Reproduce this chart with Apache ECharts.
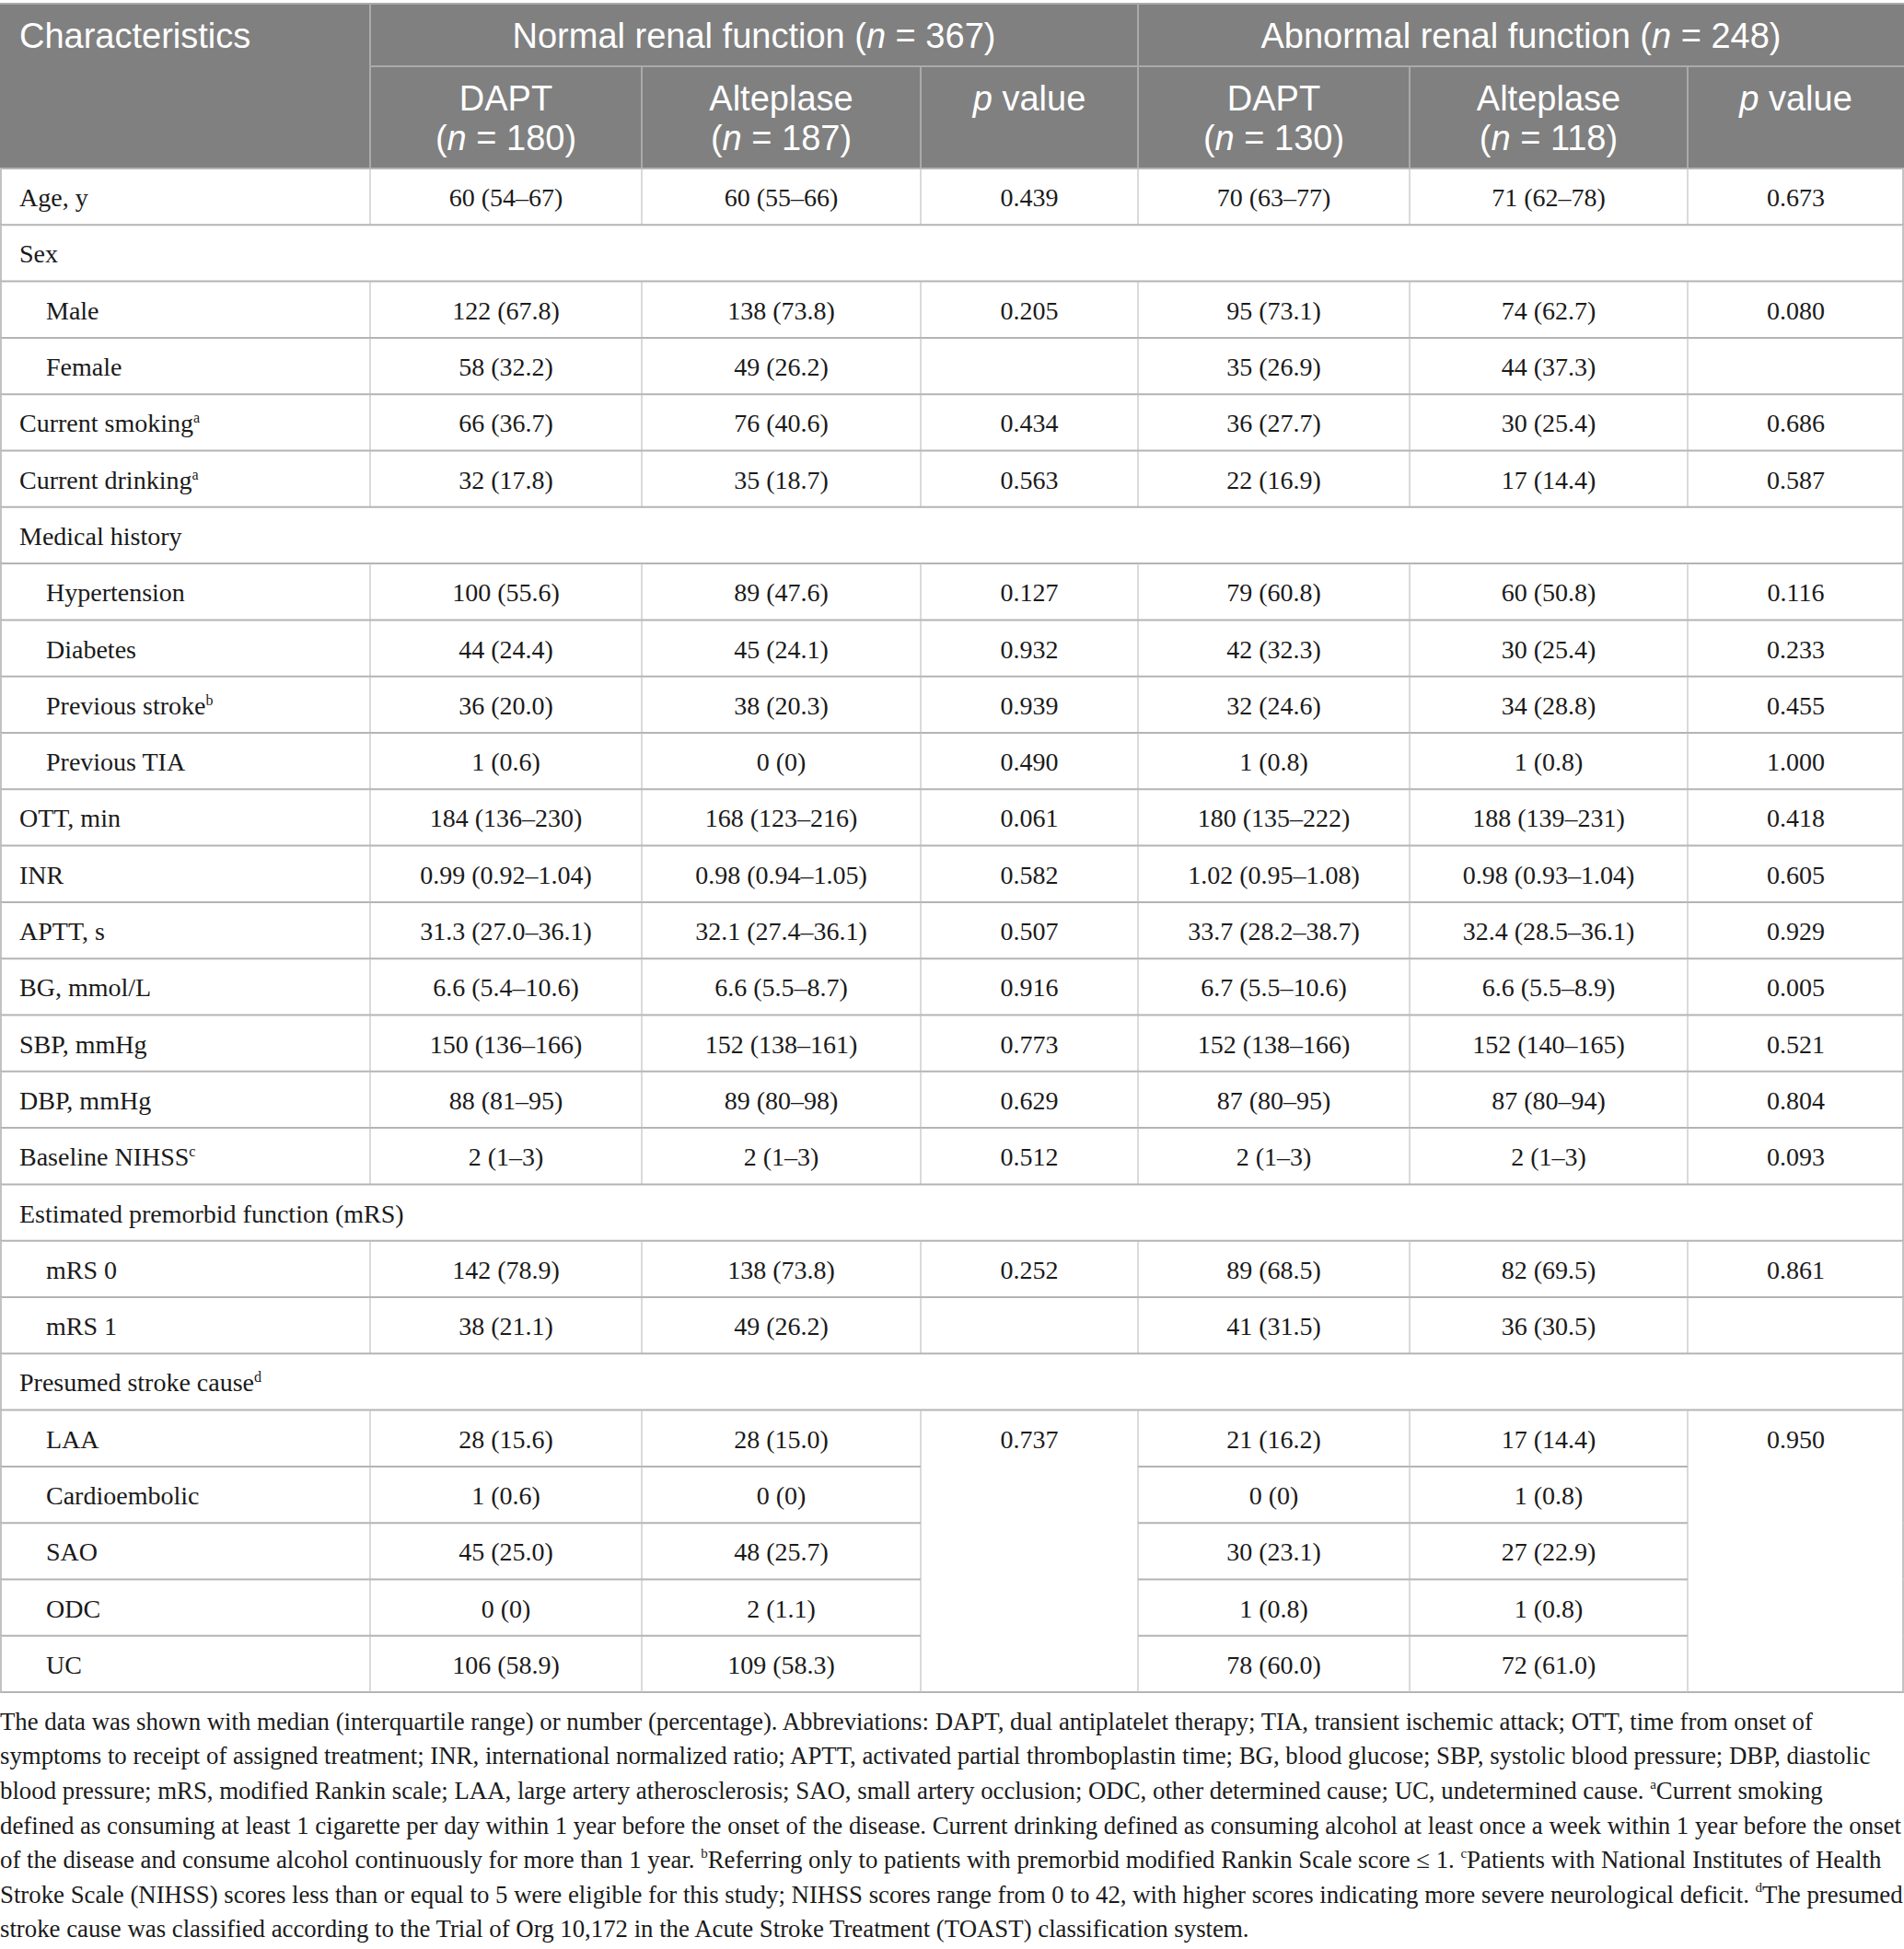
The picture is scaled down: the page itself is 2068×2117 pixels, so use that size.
<!DOCTYPE html>
<html><head><meta charset="utf-8">
<script src="https://cdn.jsdelivr.net/npm/echarts@6/dist/echarts.min.js"></script>
<style>html,body{margin:0;padding:0;background:#fff}#chart{width:2068px;height:2117px}</style>
</head><body><div id="chart"></div>
<script>
// ---------- DATA ----------
const firstColumnTitle = 'Characteristics';
const groupTitles = ['Normal renal function ({i|n} = 367)', 'Abnormal renal function ({i|n} = 248)'];
const armNames = ['DAPT', 'Alteplase', '{i|p} value', 'DAPT', 'Alteplase', '{i|p} value'];
const armSizes = ['({i|n} = 180)', '({i|n} = 187)', '', '({i|n} = 130)', '({i|n} = 118)', ''];

const characteristics = ['Age, y', 'Sex', 'Male', 'Female', 'Current smoking{sup|a}', 'Current drinking{sup|a}',
  'Medical history', 'Hypertension', 'Diabetes', 'Previous stroke{sup|b}', 'Previous TIA', 'OTT, min', 'INR',
  'APTT, s', 'BG, mmol/L', 'SBP, mmHg', 'DBP, mmHg', 'Baseline NIHSS{sup|c}', 'Estimated premorbid function (mRS)',
  'mRS 0', 'mRS 1', 'Presumed stroke cause{sup|d}', 'LAA', 'Cardioembolic', 'SAO', 'ODC', 'UC'];
const rowKind = ['item', 'section', 'sub', 'sub', 'item', 'item', 'section', 'sub', 'sub', 'sub', 'sub',
  'item', 'item', 'item', 'item', 'item', 'item', 'item', 'section', 'sub', 'sub', 'section',
  'sub', 'sub', 'sub', 'sub', 'sub'];
// rows whose p-value cell continues the merged cell of the row above
const pMergedRows = [23, 24, 25, 26];

const normalDAPT = ['60 (54–67)', '', '122 (67.8)', '58 (32.2)', '66 (36.7)', '32 (17.8)', '', '100 (55.6)', '44 (24.4)',
  '36 (20.0)', '1 (0.6)', '184 (136–230)', '0.99 (0.92–1.04)', '31.3 (27.0–36.1)', '6.6 (5.4–10.6)', '150 (136–166)',
  '88 (81–95)', '2 (1–3)', '', '142 (78.9)', '38 (21.1)', '', '28 (15.6)', '1 (0.6)', '45 (25.0)', '0 (0)', '106 (58.9)'];
const normalAlteplase = ['60 (55–66)', '', '138 (73.8)', '49 (26.2)', '76 (40.6)', '35 (18.7)', '', '89 (47.6)', '45 (24.1)',
  '38 (20.3)', '0 (0)', '168 (123–216)', '0.98 (0.94–1.05)', '32.1 (27.4–36.1)', '6.6 (5.5–8.7)', '152 (138–161)',
  '89 (80–98)', '2 (1–3)', '', '138 (73.8)', '49 (26.2)', '', '28 (15.0)', '0 (0)', '48 (25.7)', '2 (1.1)', '109 (58.3)'];
const normalP = ['0.439', '', '0.205', '', '0.434', '0.563', '', '0.127', '0.932', '0.939', '0.490', '0.061', '0.582',
  '0.507', '0.916', '0.773', '0.629', '0.512', '', '0.252', '', '', '0.737', '', '', '', ''];
const abnormalDAPT = ['70 (63–77)', '', '95 (73.1)', '35 (26.9)', '36 (27.7)', '22 (16.9)', '', '79 (60.8)', '42 (32.3)',
  '32 (24.6)', '1 (0.8)', '180 (135–222)', '1.02 (0.95–1.08)', '33.7 (28.2–38.7)', '6.7 (5.5–10.6)', '152 (138–166)',
  '87 (80–95)', '2 (1–3)', '', '89 (68.5)', '41 (31.5)', '', '21 (16.2)', '0 (0)', '30 (23.1)', '1 (0.8)', '78 (60.0)'];
const abnormalAlteplase = ['71 (62–78)', '', '74 (62.7)', '44 (37.3)', '30 (25.4)', '17 (14.4)', '', '60 (50.8)', '30 (25.4)',
  '34 (28.8)', '1 (0.8)', '188 (139–231)', '0.98 (0.93–1.04)', '32.4 (28.5–36.1)', '6.6 (5.5–8.9)', '152 (140–165)',
  '87 (80–94)', '2 (1–3)', '', '82 (69.5)', '36 (30.5)', '', '17 (14.4)', '1 (0.8)', '27 (22.9)', '1 (0.8)', '72 (61.0)'];
const abnormalP = ['0.673', '', '0.080', '', '0.686', '0.587', '', '0.116', '0.233', '0.455', '1.000', '0.418', '0.605',
  '0.929', '0.005', '0.521', '0.804', '0.093', '', '0.861', '', '', '0.950', '', '', '', ''];

const footnoteLines = [
  'The data was shown with median (interquartile range) or number (percentage). Abbreviations: DAPT, dual antiplatelet therapy; TIA, transient ischemic attack; OTT, time from onset of',
  'symptoms to receipt of assigned treatment; INR, international normalized ratio; APTT, activated partial thromboplastin time; BG, blood glucose; SBP, systolic blood pressure; DBP, diastolic',
  'blood pressure; mRS, modified Rankin scale; LAA, large artery atherosclerosis; SAO, small artery occlusion; ODC, other determined cause; UC, undetermined cause. {sup|a}Current smoking',
  'defined as consuming at least 1 cigarette per day within 1 year before the onset of the disease. Current drinking defined as consuming alcohol at least once a week within 1 year before the onset',
  'of the disease and consume alcohol continuously for more than 1 year. {sup|b}Referring only to patients with premorbid modified Rankin Scale score ≤ 1. {sup|c}Patients with National Institutes of Health',
  'Stroke Scale (NIHSS) scores less than or equal to 5 were eligible for this study; NIHSS scores range from 0 to 42, with higher scores indicating more severe neurological deficit. {sup|d}The presumed',
  'stroke cause was classified according to the Trial of Org 10,172 in the Acute Stroke Treatment (TOAST) classification system.'
];

// ---------- LAYOUT / STYLE ----------
const W = 2068;
const COL_EDGES = [0, 402, 697, 1000, 1236, 1531, 1833, 2068];
const HEADER_TOP = 4, HEADER_R1 = 68, HEADER_R2 = 111, HEADER_H = HEADER_R1 + HEADER_R2;
const BODY_TOP = HEADER_TOP + HEADER_H, ROW_H = 61.3;
const SERIF = "'Liberation Serif', 'DejaVu Serif', serif";
const SANS = "'Liberation Sans', Arial, sans-serif";
const HEAD_BG = '#808080', HEAD_LINE = '#aaaaaa', H_LINE = '#b4b4b4', V_LINE = '#c2c2c2', TXT = '#1a1a1a';
const BODY_FS = 28, HEAD_FS = 38, FOOT_FS = 26.8, HEAD_LH = 43.5;

const valueColumns = [normalDAPT, normalAlteplase, normalP, abnormalDAPT, abnormalAlteplase, abnormalP];

function line(x1, y1, x2, y2, stroke, lw) {
  return { type: 'line', shape: { x1, y1, x2, y2 }, style: { stroke, lineWidth: lw } };
}

function renderHeader(params, api) {
  const p0 = api.coord([0, 0]);
  const p1 = api.coord([W, HEADER_R1]);
  const p2 = api.coord([W, HEADER_H]);
  const xs = COL_EDGES.map(e => api.coord([e, 0])[0]);
  const yTop = p0[1], yMid = p1[1], yBot = p2[1];
  const kids = [];
  kids.push({ type: 'rect', shape: { x: xs[0], y: yTop, width: xs[7] - xs[0], height: yBot - yTop }, style: { fill: HEAD_BG } });
  kids.push(line(xs[0], yTop, xs[7], yTop, HEAD_LINE, 2));
  kids.push(line(xs[1], yMid, xs[7], yMid, HEAD_LINE, 2));
  kids.push(line(xs[1], yTop, xs[1], yBot, HEAD_LINE, 2));
  kids.push(line(xs[4], yTop, xs[4], yBot, HEAD_LINE, 2));
  [2, 3, 5, 6].forEach(k => kids.push(line(xs[k], yMid, xs[k], yBot, HEAD_LINE, 2)));
  const rich = { i: { fontStyle: 'italic', fontSize: HEAD_FS, fontFamily: SANS, fill: '#fff', lineHeight: HEAD_LH } };
  const base = { fill: '#fff', fontSize: HEAD_FS, fontFamily: SANS, lineHeight: HEAD_LH, rich };
  const r1c = (yTop + yMid) / 2 + 1;
  kids.push({ type: 'text', style: Object.assign({ text: firstColumnTitle, x: xs[0] + 21, y: r1c, align: 'left', verticalAlign: 'middle' }, base) });
  groupTitles.forEach((t, g) => {
    kids.push({ type: 'text', style: Object.assign({ text: t, x: (xs[1 + 3 * g] + xs[4 + 3 * g]) / 2, y: r1c, align: 'center', verticalAlign: 'middle' }, base) });
  });
  const r2c = (yMid + yBot) / 2 + 1;
  armNames.forEach((t, k) => {
    const cx = (xs[k + 1] + xs[k + 2]) / 2;
    const txt = armSizes[k] ? t + '\n' + armSizes[k] : t;
    kids.push({ type: 'text', style: Object.assign({ text: txt, x: cx, y: r2c - HEAD_LH, align: 'center', verticalAlign: 'top' }, base) });
  });
  return { type: 'group', children: kids };
}

function renderBody(params, api) {
  const i = api.value(1);
  const c = api.coord([0, i]);
  const h = api.size([0, 1])[1];
  const yTop = c[1] - h / 2, yBot = c[1] + h / 2, yc = c[1];
  const xs = COL_EDGES.map(e => api.coord([e, i])[0]);
  const kind = rowKind[i];
  const kids = [];
  if (pMergedRows.indexOf(i) >= 0) {
    kids.push(line(xs[0], yTop, xs[3], yTop, H_LINE, 2));
    kids.push(line(xs[4], yTop, xs[6], yTop, H_LINE, 2));
  } else {
    kids.push(line(xs[0], yTop, xs[7], yTop, H_LINE, 2));
  }
  if (i === characteristics.length - 1) kids.push(line(xs[0], yBot, xs[7], yBot, H_LINE, 2));
  kids.push(line(xs[0] + 1, yTop, xs[0] + 1, yBot, V_LINE, 2));
  kids.push(line(xs[7] - 1, yTop, xs[7] - 1, yBot, V_LINE, 2));
  if (kind !== 'section') {
    for (let k = 1; k <= 6; k++) kids.push(line(xs[k], yTop, xs[k], yBot, V_LINE, 1.2));
  }
  const rich = { sup: { fontSize: 16, fontFamily: SERIF, fill: TXT, verticalAlign: 'top' } };
  kids.push({ type: 'text', style: { text: characteristics[i], x: xs[0] + (kind === 'sub' ? 50 : 21), y: yc + 1, align: 'left', verticalAlign: 'middle', fill: TXT, fontSize: BODY_FS, fontFamily: SERIF, rich } });
  valueColumns.forEach((col, k) => {
    if (!col[i]) return;
    kids.push({ type: 'text', style: { text: col[i], x: (xs[k + 1] + xs[k + 2]) / 2, y: yc + 1, align: 'center', verticalAlign: 'middle', fill: TXT, fontSize: BODY_FS, fontFamily: SERIF } });
  });
  return { type: 'group', children: kids };
}

const chart = echarts.init(document.getElementById('chart'), null, { renderer: 'svg' });
chart.setOption({
  backgroundColor: '#ffffff',
  animation: false,
  grid: [
    { left: 0, top: HEADER_TOP, width: W, height: HEADER_H },
    { left: 0, top: BODY_TOP, width: W, height: ROW_H * characteristics.length }
  ],
  xAxis: [
    { type: 'value', gridIndex: 0, min: 0, max: W, show: false },
    { type: 'value', gridIndex: 1, min: 0, max: W, show: false }
  ],
  yAxis: [
    { type: 'value', gridIndex: 0, min: 0, max: HEADER_H, inverse: true, show: false },
    { type: 'category', gridIndex: 1, data: characteristics, inverse: true, show: false }
  ],
  series: [
    { type: 'custom', xAxisIndex: 0, yAxisIndex: 0, renderItem: renderHeader, data: [[0, 0]], clip: false, silent: true },
    { type: 'custom', xAxisIndex: 1, yAxisIndex: 1, renderItem: renderBody, encode: { x: 0, y: 1 },
      data: characteristics.map((_, i) => [0, i]), clip: false, silent: true }
  ],
  graphic: [{
    type: 'text', left: 0, top: BODY_TOP + ROW_H * characteristics.length + 13,
    style: {
      text: footnoteLines.join('\n'), fill: TXT, fontSize: FOOT_FS, fontFamily: SERIF, lineHeight: 37.6,
      rich: {
        sup: { fontSize: 15, fontFamily: SERIF, fill: TXT, lineHeight: 15, padding: [0, 0, 15, 0], verticalAlign: 'middle' }
      }
    }
  }]
});
</script></body></html>
